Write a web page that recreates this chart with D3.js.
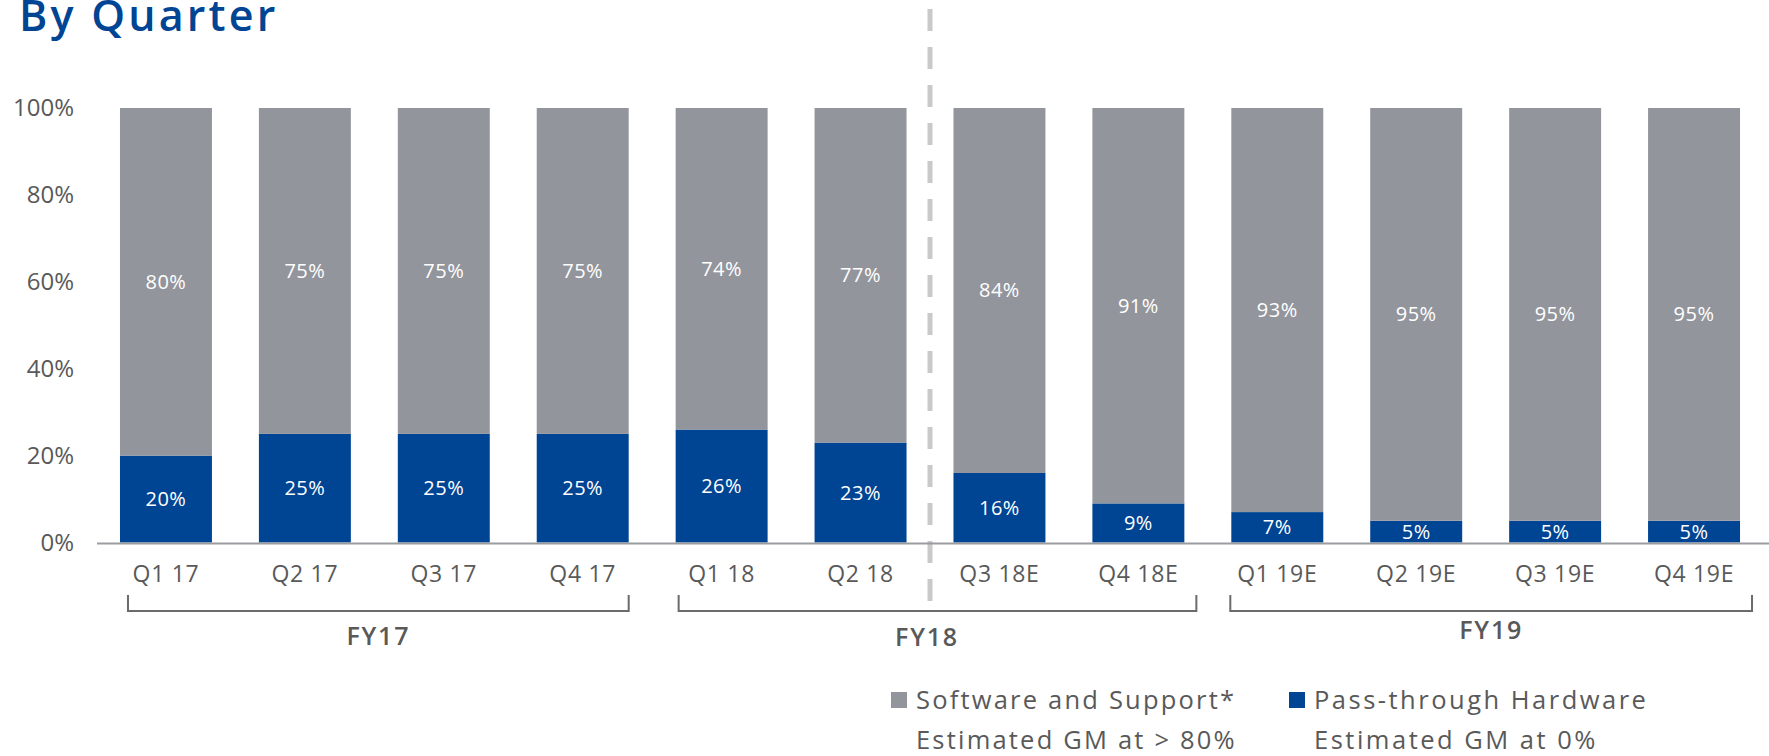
<!DOCTYPE html>
<html>
<head>
<meta charset="utf-8">
<script src="https://cdn.jsdelivr.net/npm/d3@7"></script>
<style>
  html, body { margin: 0; padding: 0; background: #fff; }
  svg { display: block; font-family: "Open Sans", sans-serif; }
</style>
</head>
<body>
<svg id="chart" width="1769" height="756"></svg>
<script>
// ---- data ----
const quarters = ["Q1 17","Q2 17","Q3 17","Q4 17","Q1 18","Q2 18","Q3 18E","Q4 18E","Q1 19E","Q2 19E","Q3 19E","Q4 19E"];
const software = [80,75,75,75,74,77,84,91,93,95,95,95];
const hardware = [20,25,25,25,26,23,16,9,7,5,5,5];
const yTicks = [0,20,40,60,80,100];
const fiscalYears = ["FY17","FY18","FY19"];
const fyFirst = ["Q1 17","Q1 18","Q1 19E"];
const fyLast = ["Q4 17","Q4 18E","Q4 19E"];
const legendNames = ["Software and Support*","Pass-through Hardware"];
const legendNotes = ["Estimated GM at > 80%","Estimated GM at 0%"];
const title = "By Quarter";

const GRAY = "#93959c", BLUE = "#004494", TEXT = "#595959";

const svg = d3.select("#chart");

const x = d3.scaleBand().domain(quarters).range([96.5, 1763.5]).paddingInner(0.338).paddingOuter(0.169);
const y = d3.scaleLinear().domain([0,100]).range([542.5, 108]);

// title
svg.append("text").attr("x", 19).attr("y", 31)
  .attr("fill", BLUE).attr("font-size", 43).attr("font-weight", 600)
  .attr("letter-spacing", 3.2)
  .text(title);

// dashed divider between Q2 18 and Q3 18E
const divX = (x("Q2 18") + x.bandwidth() + x("Q3 18E")) / 2;
svg.append("line").attr("x1", divX).attr("x2", divX).attr("y1", 9).attr("y2", 603)
  .attr("stroke", "#c9c9c9").attr("stroke-width", 5).attr("stroke-dasharray", "22,16");

// stacks
const rows = quarters.map((q,i) => ({q, hw: hardware[i], sw: software[i]}));
const g = svg.append("g");
g.selectAll("rect.hw").data(rows).join("rect").attr("class","hw")
  .attr("x", d => x(d.q)).attr("width", x.bandwidth())
  .attr("y", d => y(d.hw)).attr("height", d => y(0) - y(d.hw))
  .attr("fill", BLUE);
g.selectAll("rect.sw").data(rows).join("rect").attr("class","sw")
  .attr("x", d => x(d.q)).attr("width", x.bandwidth())
  .attr("y", d => y(d.hw + d.sw)).attr("height", d => y(d.hw) - y(d.hw + d.sw))
  .attr("fill", GRAY);

// value labels
g.selectAll("text.swl").data(rows).join("text").attr("class","swl")
  .attr("x", d => x(d.q) + x.bandwidth()/2)
  .attr("y", d => (y(d.hw) + y(d.hw + d.sw))/2)
  .attr("dy", "0.35em").attr("text-anchor","middle")
  .attr("fill", "#fff").attr("font-size", 20).attr("letter-spacing", 0.5)
  .text(d => d.sw + "%");
g.selectAll("text.hwl").data(rows).join("text").attr("class","hwl")
  .attr("x", d => x(d.q) + x.bandwidth()/2)
  .attr("y", d => (y(0) + y(d.hw))/2)
  .attr("dy", "0.35em").attr("text-anchor","middle")
  .attr("fill", "#fff").attr("font-size", 20).attr("letter-spacing", 0.5)
  .text(d => d.hw + "%");

// y axis labels
const yAxis = svg.append("g").attr("transform", "translate(74,0)")
  .call(d3.axisLeft(y).tickValues(yTicks).tickFormat(d => d + "%").tickSize(0).tickPadding(0));
yAxis.select(".domain").remove();
yAxis.selectAll("text").attr("fill", TEXT).attr("font-size", 24).attr("font-family", "Open Sans");

// x axis baseline
svg.append("line").attr("x1", 97).attr("x2", 1769).attr("y1", y(0)+1).attr("y2", y(0)+1)
  .attr("stroke", "#9a9ca0").attr("stroke-width", 2);

// x axis labels
const xAxis = svg.append("g").attr("transform", `translate(0,${y(0)})`)
  .call(d3.axisBottom(x).tickSize(0).tickPadding(0));
xAxis.select(".domain").remove();
xAxis.selectAll("text").attr("fill", TEXT).attr("font-size", 23).attr("font-family", "Open Sans")
  .attr("letter-spacing", 0.7).attr("dy", null).attr("y", 39);

// fiscal-year brackets
const bTop = 595, bBot = 611;
const fyOffL = [8, 3, -1], fyOffR = [0, 12, 12];
const fyLabelY = [645, 646, 639];
fiscalYears.forEach((fy, i) => {
  const x0 = x(fyFirst[i]) + fyOffL[i];
  const x1 = x(fyLast[i]) + x.bandwidth() + fyOffR[i];
  svg.append("path")
    .attr("d", `M${x0},${bTop}V${bBot}H${x1}V${bTop}`)
    .attr("fill", "none").attr("stroke", "#6b6b6b").attr("stroke-width", 2);
  const cx = i === 1 ? divX - 3 : (x0 + x1) / 2;
  svg.append("text").attr("x", cx).attr("y", fyLabelY[i])
    .attr("text-anchor", "middle").attr("fill", TEXT)
    .attr("font-size", 25).attr("font-weight", 600).attr("letter-spacing", 1.8).text(fy);
});

// legend
const legX = [891, 1289];
const legColors = [GRAY, BLUE];
const legSpacing = [2.2, 2.5];
legendNames.forEach((name, i) => {
  svg.append("rect").attr("x", legX[i]).attr("y", 692).attr("width", 16).attr("height", 16)
    .attr("fill", legColors[i]);
  svg.append("text").attr("x", legX[i] + 25).attr("y", 700).attr("dy", "0.35em")
    .attr("fill", TEXT).attr("font-size", 25.5).attr("letter-spacing", legSpacing[i]).text(name);
  svg.append("text").attr("x", legX[i] + 25).attr("y", 740).attr("dy", "0.35em")
    .attr("fill", TEXT).attr("font-size", 25.5).attr("letter-spacing", legSpacing[i]).text(legendNotes[i]);
});
</script>
</body>
</html>
